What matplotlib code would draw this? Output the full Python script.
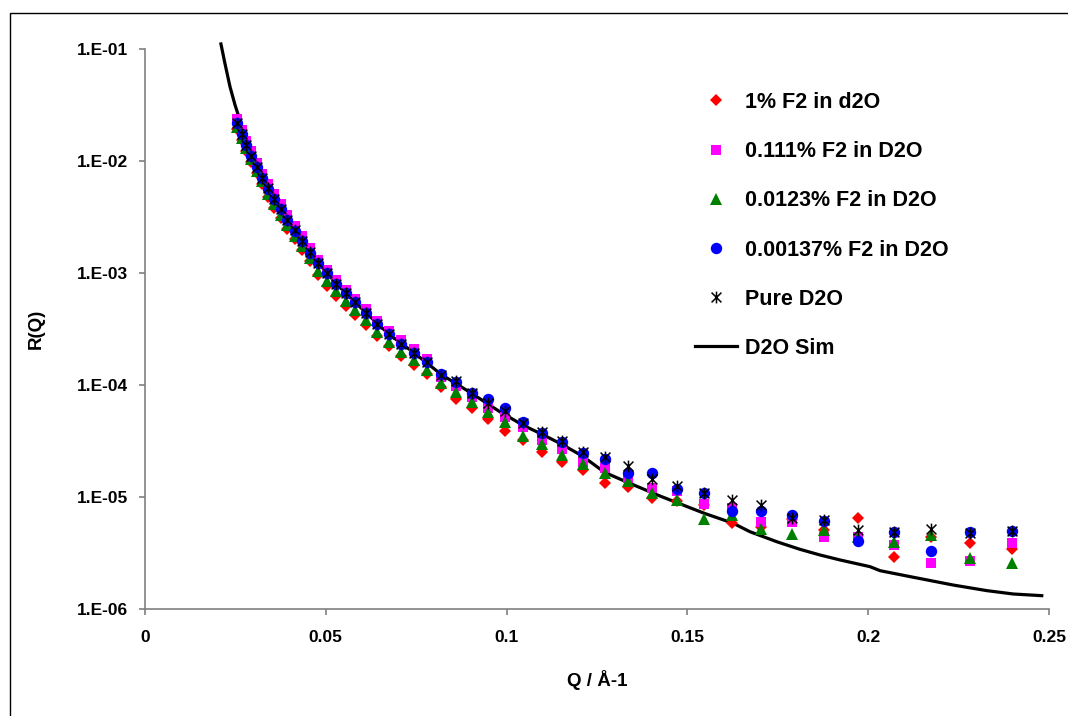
import matplotlib
matplotlib.use("Agg")
import matplotlib.pyplot as plt
import numpy as np
from matplotlib.patches import Rectangle
from matplotlib.path import Path
from matplotlib.ticker import FixedLocator, FuncFormatter

plt.rcParams["font.family"] = ["Liberation Sans", "DejaVu Sans"]
plt.rcParams["font.weight"] = "bold"

# measured points (Q in 1/Angstrom, reflectivity stored as log10 R)
Q = [0.0254, 0.0267, 0.0280, 0.0294, 0.0309, 0.0324, 0.0340, 0.0357, 0.0375, 0.0394,
     0.0414, 0.0434, 0.0456, 0.0479, 0.0503, 0.0528, 0.0555, 0.0582, 0.0611, 0.0642,
     0.0674, 0.0708, 0.0743, 0.0780, 0.0819, 0.0860, 0.0903, 0.0948, 0.0996, 0.1046,
     0.1098, 0.1153, 0.1210, 0.1271, 0.1335, 0.1401, 0.1471, 0.1545, 0.1622, 0.1703,
     0.1788, 0.1878, 0.1972, 0.2070, 0.2174, 0.2282, 0.2397]

LOG_F2_1 = [-1.715, -1.813, -1.907, -2.005, -2.105, -2.202, -2.325, -2.418, -2.508, -2.603,
            -2.700, -2.792, -2.895, -3.020, -3.112, -3.204, -3.291, -3.372, -3.464, -3.565,
            -3.655, -3.742, -3.820, -3.905, -4.021, -4.128, -4.208, -4.307, -4.408, -4.491,
            -4.595, -4.685, -4.759, -4.872, -4.910, -5.012, -5.036, -5.071, -5.235, -5.265,
            -5.199, -5.295, -5.185, -5.533, -5.360, -5.408, -5.467]

LOG_F2_0111 = [-1.625, -1.723, -1.817, -1.915, -2.015, -2.112, -2.205, -2.298, -2.388, -2.483,
               -2.580, -2.672, -2.775, -2.880, -2.972, -3.064, -3.151, -3.232, -3.324, -3.425,
               -3.515, -3.602, -3.680, -3.765, -3.926, -4.009, -4.104, -4.208, -4.283, -4.372,
               -4.491, -4.574, -4.685, -4.744, -4.826, -4.923, -4.946, -5.063, -5.101, -5.226,
               -5.220, -5.354, -5.354, -5.429, -5.586, -5.569, -5.414]

LOG_F2_00123 = [-1.695, -1.793, -1.887, -1.985, -2.085, -2.182, -2.295, -2.388, -2.478, -2.573,
                -2.670, -2.762, -2.865, -2.980, -3.072, -3.164, -3.251, -3.332, -3.424, -3.525,
                -3.615, -3.702, -3.780, -3.865, -3.985, -4.060, -4.149, -4.238, -4.327, -4.455,
                -4.527, -4.625, -4.705, -4.789, -4.855, -4.961, -5.027, -5.199, -5.161, -5.283,
                -5.330, -5.295, -5.360, -5.399, -5.339, -5.548, -5.590]

LOG_F2_000137 = [-1.665, -1.763, -1.857, -1.955, -2.055, -2.152, -2.250, -2.343, -2.433, -2.528,
                 -2.625, -2.717, -2.820, -2.910, -3.002, -3.094, -3.181, -3.262, -3.354, -3.455,
                 -3.545, -3.632, -3.710, -3.795, -3.902, -3.970, -4.069, -4.128, -4.208, -4.327,
                 -4.426, -4.506, -4.610, -4.664, -4.785, -4.788, -4.931, -4.967, -5.125, -5.125,
                 -5.164, -5.211, -5.393, -5.310, -5.479, -5.313, -5.301]

LOG_PURE = [-1.665, -1.763, -1.857, -1.955, -2.055, -2.152, -2.245, -2.338, -2.428, -2.523,
            -2.620, -2.712, -2.815, -2.910, -3.002, -3.094, -3.181, -3.262, -3.354, -3.455,
            -3.545, -3.632, -3.710, -3.795, -3.911, -3.961, -4.074, -4.164, -4.229, -4.336,
            -4.417, -4.500, -4.595, -4.640, -4.726, -4.842, -4.902, -4.967, -5.027, -5.071,
            -5.185, -5.205, -5.295, -5.310, -5.286, -5.324, -5.304]

# simulated curve
Q_SIM = [0.0210, 0.0221, 0.0235, 0.0249, 0.0263, 0.0280, 0.0309, 0.0340, 0.0375, 0.0414,
         0.0456, 0.0503, 0.0555, 0.0611, 0.0674, 0.0743, 0.0819, 0.0903, 0.0982, 0.1046,
         0.1098, 0.1153, 0.1210, 0.1271, 0.1335, 0.1424, 0.1547, 0.1627, 0.1673, 0.1747,
         0.1811, 0.1867, 0.1922, 0.2005, 0.2033, 0.2116, 0.2235, 0.2328, 0.2401, 0.2480]
LOG_SIM = [-0.955, -1.128, -1.336, -1.500, -1.640, -1.830, -2.045, -2.240, -2.425, -2.620,
           -2.815, -3.002, -3.181, -3.354, -3.545, -3.710, -3.905, -4.074, -4.240, -4.360,
           -4.440, -4.530, -4.635, -4.780, -4.870, -4.991, -5.146, -5.235, -5.310, -5.399,
           -5.467, -5.518, -5.562, -5.622, -5.658, -5.711, -5.786, -5.836, -5.866, -5.881]

SERIES = [
    ("1% F2 in d2O", LOG_F2_1, "#ff0000", "D", 6.4),
    ("0.111% F2 in D2O", LOG_F2_0111, "#ff00ff", "s", 7.8),
    ("0.0123% F2 in D2O", LOG_F2_00123, "#008000", "^", 9.2),
    ("0.00137% F2 in D2O", LOG_F2_000137, "#0000ff", "o", 8.2),
]

# Excel-style star: an X with a vertical bar
STAR = Path([(-1, -1), (1, 1), (-1, 1), (1, -1), (0, -1.2), (0, 1.2)],
            [Path.MOVETO, Path.LINETO, Path.MOVETO, Path.LINETO, Path.MOVETO, Path.LINETO])

W, H = 1068, 716
fig = plt.figure(figsize=(W / 100, H / 100), dpi=100)
ax = fig.add_axes([145 / W, 1 - 609 / H, 904 / W, 560 / H])

sim, = ax.plot(Q_SIM, np.power(10.0, LOG_SIM), color="black", linewidth=2.3,
               zorder=2, clip_on=False, label="D2O Sim")
handles = []
for label, vals, color, marker, ms in SERIES:
    h, = ax.plot(Q, np.power(10.0, vals), linestyle="none", marker=marker,
                 markersize=ms, color=color, markeredgewidth=0, zorder=3, label=label)
    handles.append(h)
h, = ax.plot(Q, np.power(10.0, LOG_PURE), linestyle="none", marker=STAR,
             markersize=8.5, color="black", markeredgewidth=1.1, zorder=4, label="Pure D2O")
handles.append(h)
handles.append(sim)

ax.set_yscale("log")
ax.set_xlim(0, 0.25)
ax.set_ylim(1e-6, 1e-1)
ax.yaxis.set_major_locator(FixedLocator([1e-6, 1e-5, 1e-4, 1e-3, 1e-2, 1e-1]))
ax.yaxis.set_minor_locator(FixedLocator([]))
ax.yaxis.set_major_formatter(FuncFormatter(lambda v, p: f"1.E{int(round(np.log10(v))):03d}"))
ax.xaxis.set_major_locator(FixedLocator([0, 0.05, 0.1, 0.15, 0.2, 0.25]))
ax.xaxis.set_major_formatter(FuncFormatter(lambda v, p: f"{v:g}"))

for side in ("top", "right"):
    ax.spines[side].set_visible(False)
for side in ("left", "bottom"):
    ax.spines[side].set_color("#808080")
    ax.spines[side].set_linewidth(1.2)
ax.tick_params(axis="both", direction="out", length=4, width=1.2, color="#808080",
               labelsize=12.5)
ax.tick_params(axis="x", pad=11)
ax.tick_params(axis="y", pad=8)

ax.set_xlabel("Q / Å-1", fontsize=13.5, fontweight="bold", labelpad=18)
ax.set_ylabel("R(Q)", fontsize=13.5, fontweight="bold", labelpad=23)

fig.legend(handles=handles, loc="upper left", bbox_to_anchor=(695 / W, 1 - 92 / H),
           frameon=False, fontsize=15.5, labelspacing=1.31, handlelength=1.95,
           handletextpad=0.37, borderpad=0, borderaxespad=0, numpoints=1)

fig.add_artist(Rectangle((10 / W, -0.1), 1.2, 1.1 - 13 / H, transform=fig.transFigure,
                         fill=False, edgecolor="black", linewidth=1.0, clip_on=False))

fig.savefig("out.png", dpi=100)
